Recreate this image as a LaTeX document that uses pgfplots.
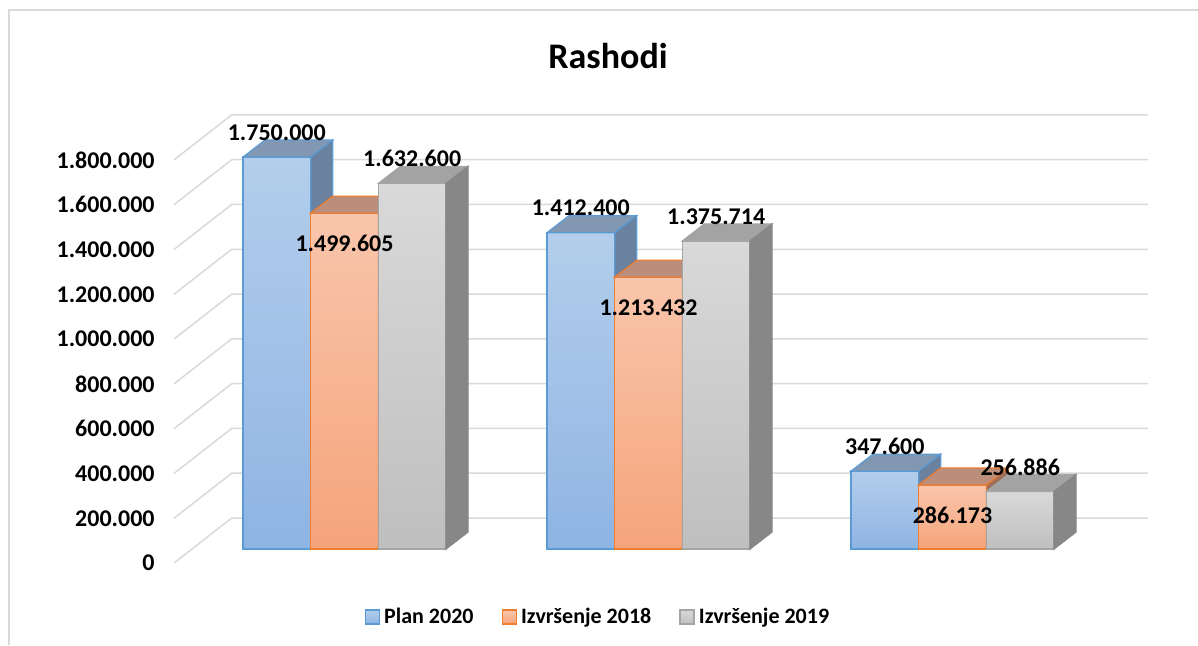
\documentclass[border=0pt]{standalone}
\usepackage{pgfplots}
\pgfplotsset{compat=1.18}
\usepackage{pgfplotstable}
\usepackage{fontspec}
\setmainfont{Carlito}

\definecolor{gridc}{HTML}{D9D9D9}
\definecolor{framec}{HTML}{D9D9D9}
\definecolor{bedge}{HTML}{5B9BD5}
\definecolor{btopc}{HTML}{B3CEEC}
\definecolor{bbotc}{HTML}{8FB4E3}
\definecolor{bface}{HTML}{8197B2}
\definecolor{bside}{HTML}{6A81A0}
\definecolor{oedge}{HTML}{ED7D31}
\definecolor{otopc}{HTML}{F9C6AC}
\definecolor{obotc}{HTML}{F5A47A}
\definecolor{oface}{HTML}{BA8E7A}
\definecolor{oside}{HTML}{A06F58}
\definecolor{gedge}{HTML}{A5A5A5}
\definecolor{gtopc}{HTML}{D9D9D9}
\definecolor{gbotc}{HTML}{BFBFBF}
\definecolor{gface}{HTML}{A3A3A3}
\definecolor{gside}{HTML}{878787}

\pgfplotstableread{
x y lab
0 1750000 1.750.000
1 1412400 1.412.400
2 347600 347.600
}\plan
\pgfplotstableread{
x y lab
0 1499605 1.499.605
1 1213432 1.213.432
2 286173 286.173
}\izvA
\pgfplotstableread{
x y lab
0 1632600 1.632.600
1 1375714 1.375.714
2 256886 256.886
}\izvB

\begin{document}
\begin{tikzpicture}[x=1pt,y=1pt]
\useasboundingbox (0,0) rectangle (599,322.5);
\draw[framec, line width=1pt] (4.5,0) -- (4.5,317.5) -- (599,317.5);
\begin{axis}[
  at={(87pt,41pt)}, anchor=south west,
  scale only axis, width=487pt, height=225pt,
  xmin=-0.5609, xmax=2.6431,
  ymin=-62500, ymax=1946750,
  axis line style={draw=none},
  xtick=\empty,
  ytick={0,200000,400000,600000,800000,1000000,1200000,1400000,1600000,1800000},
  major tick length=0pt,
  scaled y ticks=false,
  /pgf/number format/assume math mode=true,
  yticklabel={\pgfmathprintnumber[fixed,precision=0,1000 sep={.}]{\tick}},
  yticklabel style={font=\bfseries\fontsize{12}{14}\selectfont, yshift=-7pt, xshift=-9.5pt, inner sep=0pt, anchor=east},
  clip=false,
  title={Rashodi},
  every axis title shift=0pt,
  title style={at={(0.4456,1.126)}, anchor=center, font=\bfseries\fontsize{18}{22}\selectfont},
  legend columns=3,
  legend style={at={(0.4363,-0.12)}, anchor=center, draw=none, fill=none,
    font=\bfseries\fontsize{11}{13}\selectfont,
    /tikz/every odd column/.append style={column sep=0pt},
    /tikz/every even column/.append style={column sep=12pt}},
  legend image code/.code={\draw[#1] (0pt,-3.5pt) rectangle (7pt,3.5pt);},
]
% gridlines (back wall and left side wall)
\pgfplotsset{gl/.style={gridc, line width=0.75pt, mark=none, forget plot}}
\addplot[gl] coordinates {(-0.5609,-62500) (-0.371,138400) (2.6431,138400)};
\addplot[gl] coordinates {(-0.5609,137500) (-0.371,338400) (2.6431,338400)};
\addplot[gl] coordinates {(-0.5609,337500) (-0.371,538400) (2.6431,538400)};
\addplot[gl] coordinates {(-0.5609,537500) (-0.371,738400) (2.6431,738400)};
\addplot[gl] coordinates {(-0.5609,737500) (-0.371,938400) (2.6431,938400)};
\addplot[gl] coordinates {(-0.5609,937500) (-0.371,1138400) (2.6431,1138400)};
\addplot[gl] coordinates {(-0.5609,1137500) (-0.371,1338400) (2.6431,1338400)};
\addplot[gl] coordinates {(-0.5609,1337500) (-0.371,1538400) (2.6431,1538400)};
\addplot[gl] coordinates {(-0.5609,1537500) (-0.371,1738400) (2.6431,1738400)};
\addplot[gl] coordinates {(-0.5609,1737500) (-0.371,1938400) (2.6431,1938400)};

% ---- Plan 2020 (blue)
\pgfplotsset{bf/.style={ybar, bar width=0.2227, bar shift=-0.2227, draw=bedge, line width=0.75pt,
  top color=btopc, bottom color=bbotc, mark=none},
  bt/.style={fill=bface, draw=bedge, line width=0.6pt, mark=none, forget plot},
  bs/.style={fill=bside, draw=bedge, line width=0.6pt, mark=none, forget plot}}
\addplot[bf] coordinates {(0,1750000)};
\addlegendentry{Plan 2020}
\addplot[bt] coordinates {(-0.33405,1750000) (-0.11135,1750000) (-0.03895,1825900) (-0.26165,1825900)} -- cycle;
\addplot[bs] coordinates {(-0.11135,0) (-0.11135,1750000) (-0.03895,1825900) (-0.03895,75900)} -- cycle;
\addplot[bf, forget plot] coordinates {(1,1412400)};
\addplot[bt] coordinates {(0.66595,1412400) (0.88865,1412400) (0.96105,1488300) (0.73835,1488300)} -- cycle;
\addplot[bs] coordinates {(0.88865,0) (0.88865,1412400) (0.96105,1488300) (0.96105,75900)} -- cycle;
\addplot[bf, forget plot] coordinates {(2,347600)};
\addplot[bt] coordinates {(1.66595,347600) (1.88865,347600) (1.96105,423500) (1.73835,423500)} -- cycle;
\addplot[bs] coordinates {(1.88865,0) (1.88865,347600) (1.96105,423500) (1.96105,75900)} -- cycle;

% ---- Izvrsenje 2018 (orange)
\pgfplotsset{of/.style={ybar, bar width=0.2227, bar shift=0, draw=oedge, line width=0.75pt,
  top color=otopc, bottom color=obotc, mark=none},
  ot/.style={fill=oface, draw=oedge, line width=0.6pt, mark=none, forget plot},
  os/.style={fill=oside, draw=oedge, line width=0.6pt, mark=none, forget plot}}
\addplot[of] coordinates {(0,1499605)};
\addlegendentry{Izvršenje 2018}
\addplot[ot] coordinates {(-0.11135,1499605) (0.11135,1499605) (0.18375,1575505) (-0.03895,1575505)} -- cycle;
\addplot[os] coordinates {(0.11135,0) (0.11135,1499605) (0.18375,1575505) (0.18375,75900)} -- cycle;
\addplot[of, forget plot] coordinates {(1,1213432)};
\addplot[ot] coordinates {(0.88865,1213432) (1.11135,1213432) (1.18375,1289332) (0.96105,1289332)} -- cycle;
\addplot[os] coordinates {(1.11135,0) (1.11135,1213432) (1.18375,1289332) (1.18375,75900)} -- cycle;
\addplot[of, forget plot] coordinates {(2,286173)};
\addplot[ot] coordinates {(1.88865,286173) (2.11135,286173) (2.18375,362073) (1.96105,362073)} -- cycle;
\addplot[os] coordinates {(2.11135,0) (2.11135,286173) (2.18375,362073) (2.18375,75900)} -- cycle;

% ---- Izvrsenje 2019 (gray)
\pgfplotsset{gf/.style={ybar, bar width=0.2227, bar shift=0.2227, draw=gedge, line width=0.75pt,
  top color=gtopc, bottom color=gbotc, mark=none},
  gt/.style={fill=gface, draw=gedge, line width=0.6pt, mark=none, forget plot},
  gs/.style={fill=gside, draw=gside, line width=0.6pt, mark=none, forget plot}}
\addplot[gf] coordinates {(0,1632600)};
\addlegendentry{Izvršenje 2019}
\addplot[gt] coordinates {(0.11135,1632600) (0.33405,1632600) (0.40645,1708500) (0.18375,1708500)} -- cycle;
\addplot[gs] coordinates {(0.33405,0) (0.33405,1632600) (0.40645,1708500) (0.40645,75900)} -- cycle;
\addplot[gf, forget plot] coordinates {(1,1375714)};
\addplot[gt] coordinates {(1.11135,1375714) (1.33405,1375714) (1.40645,1451614) (1.18375,1451614)} -- cycle;
\addplot[gs] coordinates {(1.33405,0) (1.33405,1375714) (1.40645,1451614) (1.40645,75900)} -- cycle;
\addplot[gf, forget plot] coordinates {(2,256886)};
\addplot[gt] coordinates {(2.11135,256886) (2.33405,256886) (2.40645,332786) (2.18375,332786)} -- cycle;
\addplot[gs] coordinates {(2.33405,0) (2.33405,256886) (2.40645,332786) (2.40645,75900)} -- cycle;

% ---- data labels
\pgfplotsset{lbl/.style={draw=none, mark=none, forget plot, nodes near coords,
  point meta=explicit symbolic,
  nodes near coords style={text=black, anchor=center, inner sep=0pt,
    font=\bfseries\fontsize{12}{14}\selectfont}}}
\addplot[lbl, nodes near coords style={yshift=12.25pt}] table[x expr=\thisrow{x}-0.2227, y=y, meta=lab]{\plan};
\addplot[lbl, nodes near coords style={yshift=-15pt}] table[x=x, y=y, meta=lab]{\izvA};
\addplot[lbl, nodes near coords style={yshift=12.25pt}] table[x expr=\thisrow{x}+0.2227, y=y, meta=lab]{\izvB};
\end{axis}
\end{tikzpicture}
\end{document}
